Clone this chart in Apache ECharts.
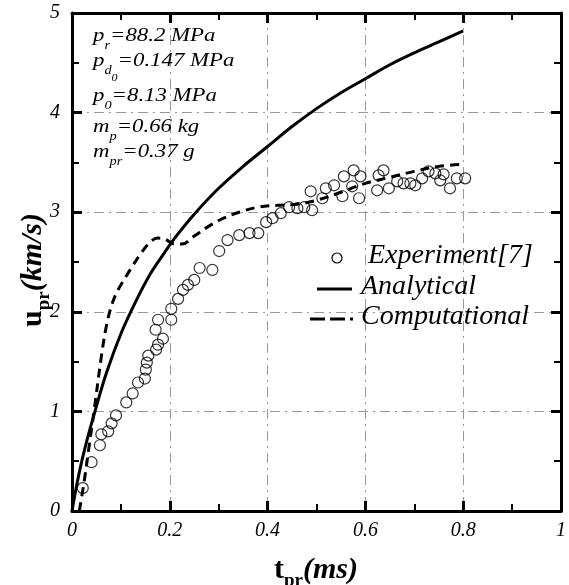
<!DOCTYPE html>
<html><head><meta charset="utf-8">
<script src="https://cdn.jsdelivr.net/npm/echarts@6/dist/echarts.min.js"></script>
<style>html,body{margin:0;padding:0;background:#fff}#c{width:569px;height:585px}</style>
</head><body><div id="c"></div>
<script>
// ---- data ----
const xTickValues = [0, 0.2, 0.4, 0.6, 0.8, 1];
const yTickValues = [0, 1, 2, 3, 4, 5];

const experiment = [
  [0.022,0.23],[0.040,0.49],[0.057,0.66],[0.060,0.77],[0.074,0.80],[0.081,0.88],[0.090,0.96],
  [0.111,1.09],[0.124,1.18],[0.135,1.29],[0.149,1.33],[0.151,1.42],[0.153,1.49],[0.156,1.56],
  [0.172,1.62],[0.176,1.67],[0.186,1.73],[0.171,1.82],[0.176,1.92],[0.203,1.92],[0.203,2.03],
  [0.217,2.13],[0.227,2.22],[0.237,2.27],[0.250,2.32],[0.261,2.44],[0.287,2.42],[0.301,2.61],
  [0.318,2.72],[0.342,2.77],[0.363,2.79],[0.381,2.79],[0.397,2.90],[0.410,2.94],[0.427,2.99],
  [0.444,3.05],[0.461,3.04],[0.475,3.05],[0.491,3.02],[0.488,3.21],[0.512,3.14],[0.519,3.24],
  [0.536,3.27],[0.553,3.16],[0.556,3.36],[0.576,3.42],[0.573,3.26],[0.587,3.14],[0.590,3.36],
  [0.624,3.22],[0.627,3.37],[0.637,3.42],[0.648,3.24],[0.665,3.31],[0.678,3.29],[0.692,3.29],
  [0.702,3.27],[0.716,3.34],[0.729,3.41],[0.743,3.39],[0.753,3.32],[0.760,3.38],[0.773,3.24],
  [0.787,3.34],[0.804,3.34]
];

const analytical = [
  [0,0],[0.01,0.27],[0.02,0.5],[0.03,0.7],[0.047,1.0],[0.07,1.38],[0.1,1.78],[0.13,2.1],
  [0.16,2.38],[0.19,2.6],[0.21,2.74],[0.25,2.98],[0.3,3.24],[0.35,3.46],[0.4,3.66],
  [0.45,3.86],[0.5,4.04],[0.55,4.2],[0.6,4.34],[0.65,4.48],[0.7,4.6],[0.75,4.71],[0.8,4.82]
];

const computational = [
  [0.015,0],[0.025,0.3],[0.035,0.65],[0.045,1.0],[0.06,1.55],[0.07,1.85],[0.08,2.05],[0.09,2.18],
  [0.1,2.27],[0.12,2.43],[0.14,2.58],[0.16,2.7],[0.175,2.74],[0.19,2.73],[0.21,2.68],[0.225,2.68],
  [0.25,2.76],[0.28,2.86],[0.31,2.94],[0.342,3.0],[0.38,3.05],[0.42,3.07],[0.46,3.08],[0.5,3.12],
  [0.55,3.2],[0.6,3.29],[0.65,3.35],[0.7,3.41],[0.75,3.46],[0.8,3.48]
];

const legendLabels = ['Experiment[7]', 'Analytical', 'Computational'];

// ---- chart ----
const serif = '"Liberation Serif","DejaVu Serif",serif';
const chart = echarts.init(document.getElementById('c'), null, {renderer: 'canvas'});

function axisCommon(showLabel, isX) {
  return {
    type: 'value',
    axisLine: {show: true, onZero: false, lineStyle: {color: '#000', width: 3}},
    axisTick: {show: true, inside: true, length: 10, lineStyle: {color: '#000', width: 3}},
    minorTick: {show: true, splitNumber: 2, length: 7, lineStyle: {color: '#000', width: 2}},
    axisLabel: {show: showLabel, fontFamily: serif, fontStyle: 'italic', fontSize: 20, color: '#000', margin: isX ? 10 : 12},
    splitLine: {show: false},
    minorSplitLine: {show: false}
  };
}

const grid = {left: 72, top: 13, width: 491, height: 498};

const option = {
  backgroundColor: '#fff',
  animation: false,
  grid: grid,
  xAxis: [
    Object.assign(axisCommon(true, true), {
      position: 'bottom', min: xTickValues[0], max: xTickValues[xTickValues.length-1], interval: 0.2,
      splitLine: {show: true, lineStyle: {color: '#999', width: 1, type: [10, 5, 2, 5]}}
    }),
    Object.assign(axisCommon(false, true), {
      position: 'top', min: xTickValues[0], max: xTickValues[xTickValues.length-1], interval: 0.2
    })
  ],
  yAxis: [
    Object.assign(axisCommon(true, false), {
      position: 'left', min: yTickValues[0], max: yTickValues[yTickValues.length-1], interval: 1,
      splitLine: {show: true, lineStyle: {color: '#999', width: 1, type: [10, 5, 2, 5]}}
    }),
    Object.assign(axisCommon(false, false), {
      position: 'right', min: yTickValues[0], max: yTickValues[yTickValues.length-1], interval: 1
    })
  ],
  series: [
    {
      name: legendLabels[0], type: 'scatter', data: experiment,
      symbol: 'circle', symbolSize: 11,
      itemStyle: {color: 'rgba(255,255,255,0)', borderColor: '#000', borderWidth: 1.2},
      z: 3
    },
    {
      name: legendLabels[1], type: 'line', data: analytical, smooth: 0.35, showSymbol: false,
      lineStyle: {color: '#000', width: 3}, z: 4
    },
    {
      name: legendLabels[2], type: 'line', data: computational, smooth: 0.35, showSymbol: false,
      lineStyle: {color: '#000', width: 3, type: [9, 6]}, z: 4
    }
  ],
  graphic: []
};

const annoFont = 19;
function annoStyles() {
  return {
    m: {fontFamily: serif, fontStyle: 'italic', fontSize: annoFont, color: '#000', lineHeight: 26, verticalAlign: 'top'},
    s: {fontFamily: serif, fontStyle: 'italic', fontSize: 12, color: '#000', lineHeight: 26, verticalAlign: 'bottom'},
    ss: {fontFamily: serif, fontStyle: 'italic', fontSize: 10, color: '#000', lineHeight: 26, verticalAlign: 'bottom', padding: [0,0,-6,0]}
  };
}
const annoLines = [
  {y: 26, t: '{m|p}{s|r}{m|=88.2 MPa}'},
  {y: 51, t: '{m|p}{s|d}{ss|0}{m|=0.147 MPa}'},
  {y: 86, t: '{m|p}{s|0}{m|=8.13 MPa}'},
  {y: 117, t: '{m|m}{s|p}{m|=0.66 kg}'},
  {y: 142, t: '{m|m}{s|pr}{m|=0.37 g}'}
];
annoLines.forEach(l => {
  option.graphic.push({
    type: 'text', left: 93, top: l.y, scaleX: 1.2, z: 10,
    style: {text: l.t, rich: annoStyles(), fill: '#000'}
  });
});

// legend
const lf = {fontFamily: serif, fontStyle: 'italic', fontSize: 28, fill: '#000', verticalAlign: 'middle', align: 'left'};
option.graphic.push(
  {type: 'circle', shape: {cx: 337, cy: 258, r: 5}, style: {fill: 'none', stroke: '#000', lineWidth: 1.2}, z: 10},
  {type: 'text', x: 368, y: 256, style: Object.assign({text: legendLabels[0]}, lf), z: 10},
  {type: 'line', shape: {x1: 317, y1: 289, x2: 352, y2: 289}, style: {stroke: '#000', lineWidth: 3}, z: 10},
  {type: 'text', x: 361, y: 287, style: Object.assign({text: legendLabels[1]}, lf), z: 10},
  {type: 'line', shape: {x1: 310, y1: 319, x2: 353, y2: 319}, style: {stroke: '#000', lineWidth: 3, lineDash: [15, 5]}, z: 10},
  {type: 'text', x: 361, y: 317, style: Object.assign({text: legendLabels[2]}, lf), z: 10}
);

// axis titles
const tb = {fontFamily: serif, fontWeight: 'bold', fontSize: 30, color: '#000', verticalAlign: 'bottom', lineHeight: 36};
option.graphic.push(
  {type: 'text', x: 316, y: 567, z: 10,
   style: {text: '{a|t}{b|pr}{c|(ms)}', align: 'center', verticalAlign: 'middle',
     rich: {a: tb, b: Object.assign({}, tb, {fontSize: 19, padding: [0,0,-6,0]}), c: Object.assign({}, tb, {fontStyle: 'italic'})}}},
  {type: 'text', x: 30, y: 270, rotation: Math.PI / 2, z: 10,
   style: {text: '{a|u}{b|pr}{c|(km/s)}', align: 'center', verticalAlign: 'middle',
     rich: {a: tb, b: Object.assign({}, tb, {fontSize: 19, padding: [0,0,-6,0]}), c: Object.assign({}, tb, {fontStyle: 'italic'})}}}
);

chart.setOption(option);
</script>
</body></html>
